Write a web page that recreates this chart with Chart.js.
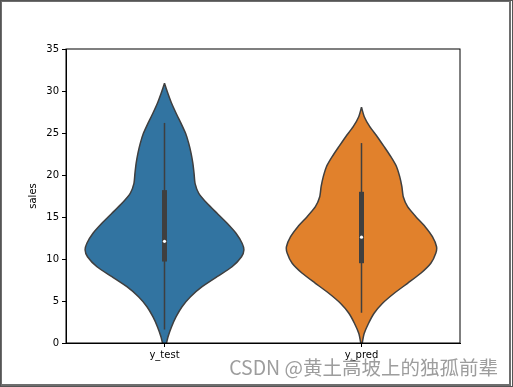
<!DOCTYPE html>
<html>
<head>
<meta charset="utf-8">
<script src="https://cdn.jsdelivr.net/npm/chart.js@4/dist/chart.umd.min.js"></script>
<style>
  html, body { margin: 0; padding: 0; background: #fff; }
  #wrap { width: 513px; height: 387px; position: relative; }
</style>
</head>
<body>
<div id="wrap"><canvas id="violin"></canvas></div>
<script>
// categories
const categories = ["y_test", "y_pred"];

// violin outlines: sales level -> half width (in category units)
const testLevels = [30.92, 29.73, 28.54, 27.35, 26.15, 24.96, 23.77, 22.58, 21.39, 20.20, 19.01, 17.82, 16.63, 15.44, 14.25, 13.06, 11.87, 11.07, 10.27, 9.08, 7.89, 6.70, 5.51, 4.32, 3.13, 1.94, 0.75, -0.04, -0.6];
const testWidths = [0, 0.017, 0.036, 0.059, 0.084, 0.107, 0.123, 0.135, 0.144, 0.150, 0.155, 0.174, 0.216, 0.267, 0.318, 0.363, 0.394, 0.403, 0.391, 0.343, 0.267, 0.191, 0.132, 0.089, 0.059, 0.036, 0.018, 0.010, 0.004];
const predLevels = [28.06, 26.94, 25.75, 24.56, 23.37, 22.18, 20.99, 19.80, 18.61, 17.42, 16.23, 15.04, 13.85, 12.65, 11.46, 10.68, 9.49, 8.30, 7.11, 5.92, 4.73, 3.54, 2.35, 1.15, 0.15, -0.5];
const predWidths = [0, 0.014, 0.042, 0.080, 0.115, 0.149, 0.178, 0.194, 0.205, 0.212, 0.234, 0.276, 0.323, 0.360, 0.381, 0.377, 0.352, 0.301, 0.234, 0.166, 0.107, 0.064, 0.036, 0.014, 0.005, 0.002];

// inner box stats [y_test, y_pred]
const whiskerLow = [1.6, 3.6];
const q1 = [9.7, 9.5];
const median = [12.1, 12.6];
const q3 = [18.2, 18.0];
const whiskerHigh = [26.2, 23.8];

const yTicks = [0, 5, 10, 15, 20, 25, 30, 35];

const fillColors = ["#3274a1", "#e1812c"];
const edge = "#3f3f3f";

function outline(center, levels, widths) {
    let pts = [];
    for (let i = 0; i < levels.length; i++) pts.push({ x: center - widths[i], y: levels[i] });
    for (let i = levels.length - 1; i >= 0; i--) pts.push({ x: center + widths[i], y: levels[i] });
    return pts;
}

let datasets = [];
//violins
[[testLevels, testWidths], [predLevels, predWidths]].forEach((v, i) => {
    datasets.push({
        data: outline(i, v[0], v[1]),
        showLine: true,
        fill: "shape",
        backgroundColor: fillColors[i],
        borderColor: edge,
        borderWidth: 1.5,
        pointRadius: 0,
        tension: 0.2,
        order: 3,
    });
});
//whiskers, boxes, medians
categories.forEach((c, i) => {
    datasets.push({
        data: [{ x: i, y: whiskerLow[i] }, { x: i, y: whiskerHigh[i] }],
        showLine: true, borderColor: edge, borderWidth: 1.5, pointRadius: 0, order: 2,
    });
    datasets.push({
        data: [{ x: i, y: q1[i] }, { x: i, y: q3[i] }],
        showLine: true, borderColor: edge, borderWidth: 5, borderCapStyle: "butt", pointRadius: 0, order: 1,
    });
    datasets.push({
        data: [{ x: i, y: median[i] }],
        pointRadius: 1.6, pointBackgroundColor: "#ffffff", pointBorderWidth: 0, order: 0,
    });
});

const frame = {
    id: "frame",
    afterDraw(chart) {
        const ctx = chart.ctx, a = chart.chartArea;
        ctx.save();
        ctx.strokeStyle = "#000";
        ctx.lineWidth = 1;
        ctx.strokeRect(a.left, a.top, a.right - a.left, a.bottom - a.top);
        // outer window border
        ctx.strokeStyle = "#6e6e6e";
        ctx.lineWidth = 2;
        ctx.strokeRect(1, 1, chart.width - 4, chart.height - 3);
        ctx.lineWidth = 1;
        ctx.strokeStyle = "#555";
        ctx.strokeRect(0.5, 0.5, chart.width - 1, chart.height - 1);
        // watermark
        ctx.font = '19.5px "Noto Sans CJK SC", "DejaVu Sans", sans-serif';
        ctx.fillStyle = "rgba(140,140,140,0.85)";
        ctx.textAlign = "right";
        ctx.textBaseline = "alphabetic";
        ctx.fillText("CSDN @黄土高坡上的独孤前辈", chart.width - 15, chart.height - 12);
        ctx.restore();
    },
};

const tickFont = { family: "DejaVu Sans", size: 10 };

new Chart(document.getElementById("violin"), {
    type: "scatter",
    data: { datasets: datasets },
    options: {
        responsive: true,
        maintainAspectRatio: false,
        animation: false,
        layout: { padding: { left: 27, top: 49, right: 53, bottom: 0 } },
        plugins: { legend: { display: false }, tooltip: { enabled: false } },
        scales: {
            x: {
                type: "linear",
                min: -0.5,
                max: 1.5,
                afterBuildTicks: (s) => { s.ticks = categories.map((c, i) => ({ value: i })); },
                afterFit: (s) => { s.height = 44; },
                ticks: {
                    callback: (v) => categories[v],
                    color: "#000",
                    font: tickFont,
                    padding: 2,
                    maxRotation: 0,
                },
                grid: { drawOnChartArea: false, tickLength: 4, color: "#000", tickColor: "#000" },
                border: { color: "#000" },
            },
            y: {
                min: 0,
                max: 35,
                afterBuildTicks: (s) => { s.ticks = yTicks.map((v) => ({ value: v })); },
                afterFit: (s) => { s.width = 39; },
                ticks: { color: "#000", font: tickFont, padding: 3 },
                grid: { drawOnChartArea: false, tickLength: 4, color: "#000", tickColor: "#000" },
                border: { color: "#000" },
                title: { display: true, text: "sales", color: "#000", font: tickFont, padding: 0 },
            },
        },
    },
    plugins: [frame],
});
</script>
</body>
</html>
